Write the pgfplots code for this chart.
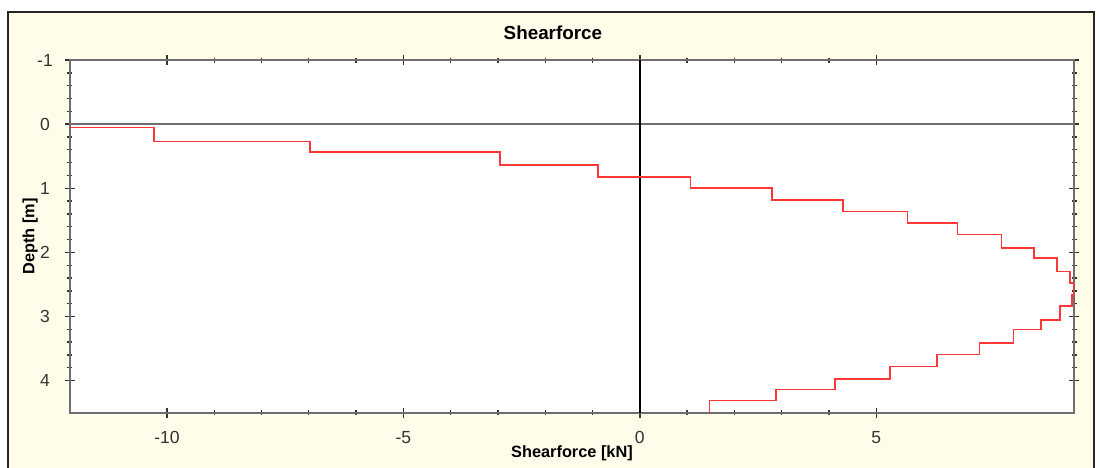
\documentclass[border=0pt]{standalone}
\usepackage{fontspec}
\setmainfont{Liberation Sans}
\usepackage{pgfplots}
\pgfplotsset{compat=1.18}
\definecolor{cream}{RGB}{255,253,234}
\definecolor{shear}{RGB}{255,55,55}
\definecolor{axgray}{RGB}{110,110,110}
\begin{document}
\begin{tikzpicture}[x=0.6pt,y=0.6pt]
\useasboundingbox (0,0) rectangle (1100,468);
\fill[white] (0,0) rectangle (1100,468);
\fill[cream] (8,-5) rectangle (1094,456);
\draw[black!85, line width=1.3pt] (8,-5) -- (8,456) -- (1094,456) -- (1094,-5);
\begin{axis}[
  at={(42pt,33.18pt)}, anchor=south west,
  width=602.4pt, height=211.6pt, scale only axis,
  xmin=-12.05, xmax=9.18, ymin=-1, ymax=4.5, y dir=reverse,
  xtick={-10,-5,0,5}, minor x tick num=4,
  ytick={-1,0,1,2,3,4}, minor y tick num=4,
  axis background/.style={fill=white},
  axis line style={axgray, line width=1pt},
  tick style={black!80, line width=0.8pt},
  major tick length=6pt, minor tick length=3pt, tick align=center,
  /pgf/number format/assume math mode=true,
  ticklabel style={font=\fontsize{10.5}{12}\selectfont, text=black!80},
  xticklabel style={anchor=center, yshift=-12pt},
  yticklabel style={anchor=center, xshift=-12pt},
  every axis title shift=0pt,
  title={\bfseries Shearforce},
  title style={at={(axis description cs:0.481,1.0766)}, anchor=center, font=\fontsize{11.3}{13}\selectfont},
  xlabel={\bfseries Shearforce [kN]},
  xlabel style={at={(axis description cs:0.5,-0.114)}, anchor=center, font=\fontsize{9.8}{12}\selectfont},
  ylabel={\bfseries Depth [m]},
  ylabel style={at={(axis description cs:-0.0398,0.5)}, anchor=center, rotate=0, font=\fontsize{9.8}{12}\selectfont},
]
\addplot[axgray, line width=0.9pt, forget plot] coordinates {(-12.05,0) (9.18,0)};
\addplot[black, line width=1.6pt, forget plot] coordinates {(0,-1) (0,4.5)};
\addplot[shear, line width=1pt] coordinates {
(-12.05,0.05) (-10.27,0.05) (-10.27,0.27) (-6.98,0.27) (-6.98,0.43)
(-2.96,0.43) (-2.96,0.64) (-0.88,0.64) (-0.88,0.82) (1.07,0.82)
(1.07,1.00) (2.80,1.00) (2.80,1.18) (4.30,1.18) (4.30,1.36)
(5.66,1.36) (5.66,1.54) (6.72,1.54) (6.72,1.72) (7.65,1.72)
(7.65,1.93) (8.33,1.93) (8.33,2.09) (8.82,2.09) (8.82,2.30)
(9.10,2.30) (9.10,2.48) (9.18,2.48) (9.18,2.66) (9.14,2.66)
(9.14,2.84) (8.89,2.84) (8.89,3.05) (8.48,3.05) (8.48,3.20)
(7.90,3.20) (7.90,3.41) (7.18,3.41) (7.18,3.59) (6.28,3.59)
(6.28,3.78) (5.29,3.78) (5.29,3.97) (4.13,3.97) (4.13,4.14)
(2.88,4.14) (2.88,4.31) (1.47,4.31) (1.47,4.5)
};
\end{axis}
\end{tikzpicture}
\end{document}
